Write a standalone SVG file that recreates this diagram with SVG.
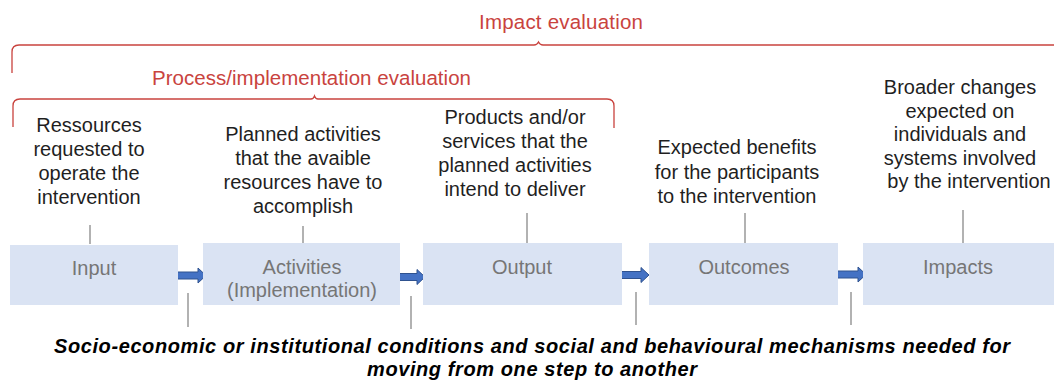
<svg xmlns="http://www.w3.org/2000/svg" width="1054" height="380" viewBox="0 0 1054 380">
  <defs>
    <style>
      .bracket { fill: none; stroke: #C9433E; stroke-width: 1.3; }
      .blabel { font-family: "Liberation Sans", Arial, sans-serif; font-size: 20.5px; fill: #C9433E; text-anchor: middle; }
      .desc { font-family: "Liberation Sans", Arial, sans-serif; font-size: 20px; fill: #1f1f1f; text-anchor: middle; }
      .box { fill: #DAE3F3; }
      .boxlabel { font-family: "Liberation Sans", Arial, sans-serif; font-size: 20px; fill: #767676; text-anchor: middle; }
      .tick { stroke: #7F7F7F; stroke-width: 1.2; fill: none; }
      .flow { fill: #4472C4; stroke: #2F528F; stroke-width: 1; }
      .note { font-family: "Liberation Sans", Arial, sans-serif; font-size: 20px; font-weight: bold; font-style: italic; fill: #000; text-anchor: middle; }
    </style>
    <path id="flowArrow" d="M0,-3.5 L25,-3.5 L25,-7.5 L33,0 L25,7.5 L25,3.5 L0,3.5 Z"/>
  </defs>

  <!-- evaluation scopes -->
  <g id="impact-evaluation">
    <path class="bracket" d="M12,73 L12,52 Q12,45 19,45 L534,45 Q537,45 538.5,42 Q540,45 543,45 L1054,45"/>
    <text class="blabel" x="561" y="29" textLength="164" lengthAdjust="spacing">Impact evaluation</text>
  </g>
  <g id="process-evaluation">
    <path class="bracket" d="M13,127 L13,106 Q13,99 20,99 L311,99 Q313.5,99 314.5,96 Q315.5,99 318,99 L607,99 Q614,99 614,106 L614,128"/>
    <text class="blabel" x="311.5" y="85" textLength="319" lengthAdjust="spacing">Process/implementation evaluation</text>
  </g>

  <!-- connectors: description ticks, condition ticks and flow arrows -->
  <g id="connectors">
    <line class="tick" x1="90" y1="225" x2="90" y2="244"/>
    <line class="tick" x1="303" y1="226" x2="303" y2="243"/>
    <line class="tick" x1="527" y1="213" x2="527" y2="243"/>
    <line class="tick" x1="745" y1="213" x2="745" y2="243"/>
    <line class="tick" x1="963" y1="210" x2="963" y2="243"/>

    <line class="tick" x1="188" y1="293" x2="188" y2="327"/>
    <line class="tick" x1="411" y1="296" x2="411" y2="329"/>
    <line class="tick" x1="636" y1="292" x2="636" y2="325"/>
    <line class="tick" x1="851" y1="292" x2="851" y2="325"/>

    <use href="#flowArrow" class="flow" transform="translate(173,275.5)"/>
    <use href="#flowArrow" class="flow" transform="translate(392,277)"/>
    <use href="#flowArrow" class="flow" transform="translate(616,275)"/>
    <use href="#flowArrow" class="flow" transform="translate(833,274.5)"/>
  </g>

  <!-- chain steps -->
  <g id="input">
    <rect class="box" x="10" y="245" width="168" height="60"/>
    <text class="boxlabel" x="94" y="275">Input</text>
    <text class="desc" x="89" y="132">Ressources</text>
    <text class="desc" x="89" y="156">requested to</text>
    <text class="desc" x="89" y="180">operate the</text>
    <text class="desc" x="89" y="204">intervention</text>
  </g>

  <g id="activities">
    <rect class="box" x="203" y="243" width="197" height="62"/>
    <text class="boxlabel" x="302" y="274">Activities</text>
    <text class="boxlabel" x="302" y="297">(Implementation)</text>
    <text class="desc" x="303" y="141">Planned activities</text>
    <text class="desc" x="303" y="165">that the avaible</text>
    <text class="desc" x="303" y="189">resources have to</text>
    <text class="desc" x="303" y="213">accomplish</text>
  </g>

  <g id="output">
    <rect class="box" x="423" y="243" width="199" height="62"/>
    <text class="boxlabel" x="522" y="274">Output</text>
    <text class="desc" x="515" y="124">Products and/or</text>
    <text class="desc" x="515" y="148">services that the</text>
    <text class="desc" x="515" y="172">planned activities</text>
    <text class="desc" x="515" y="196">intend to deliver</text>
  </g>

  <g id="outcomes">
    <rect class="box" x="649" y="243" width="189" height="62"/>
    <text class="boxlabel" x="744" y="274">Outcomes</text>
    <text class="desc" x="737" y="154">Expected benefits</text>
    <text class="desc" x="737" y="179">for the participants</text>
    <text class="desc" x="737" y="203">to the intervention</text>
  </g>

  <g id="impacts">
    <rect class="box" x="863" y="243" width="191" height="62"/>
    <text class="boxlabel" x="958" y="274">Impacts</text>
    <text class="desc" x="960" y="94">Broader changes</text>
    <text class="desc" x="960" y="117.5">expected on</text>
    <text class="desc" x="960" y="141">individuals and</text>
    <text class="desc" x="960" y="164.5">systems involved</text>
    <text class="desc" x="969" y="188">by the intervention</text>
  </g>

  <!-- conditions between steps -->
  <g id="conditions">
    <text class="note" x="532" y="353" textLength="956" lengthAdjust="spacing">Socio-economic or institutional conditions and social and behavioural mechanisms needed for</text>
    <text class="note" x="532" y="376" textLength="330" lengthAdjust="spacing">moving from one step to another</text>
  </g>
</svg>
